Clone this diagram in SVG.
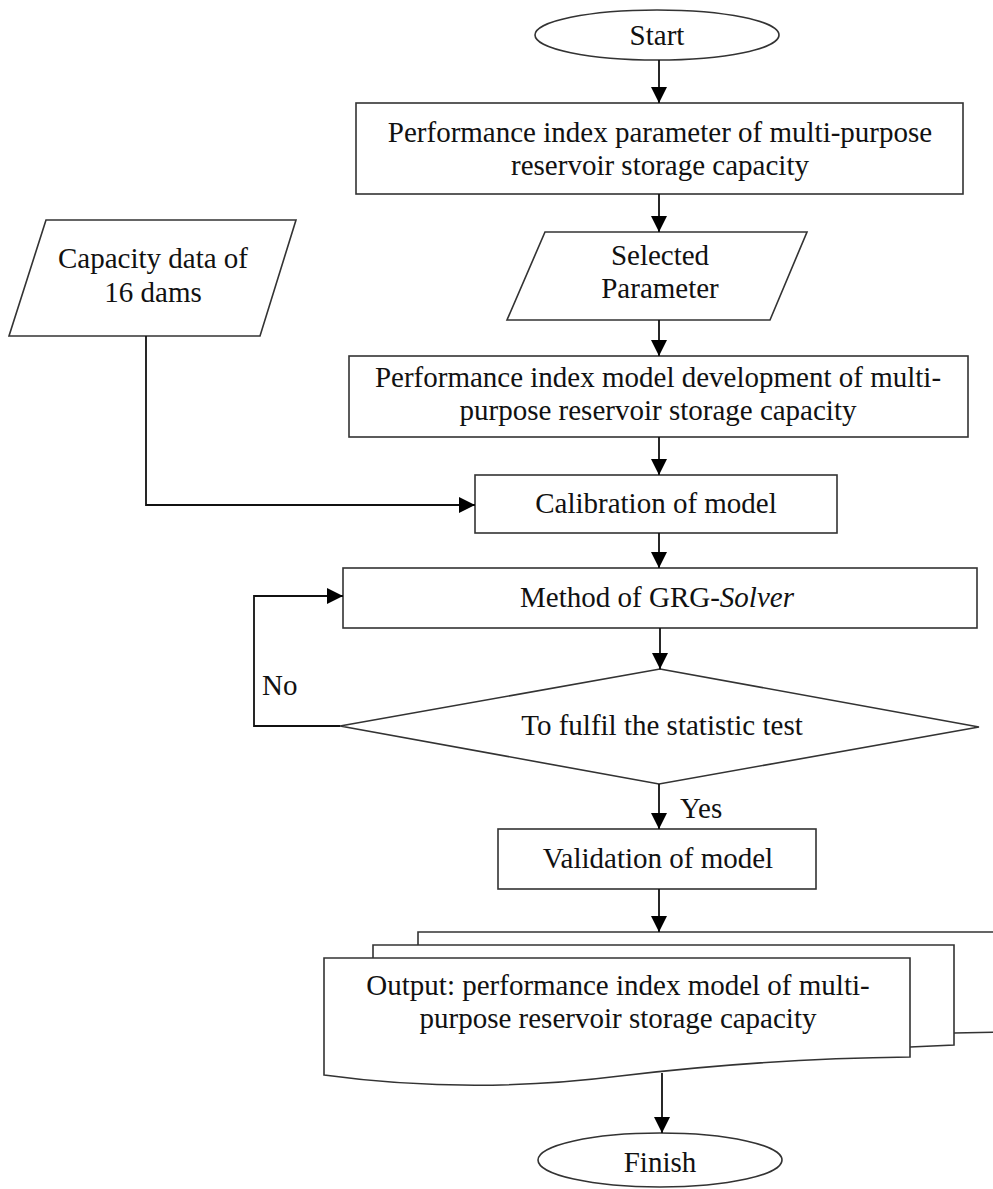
<svg xmlns="http://www.w3.org/2000/svg" width="993" height="1189" viewBox="0 0 993 1189">
<defs>
<marker id="arr" viewBox="0 0 16 16" refX="16" refY="8" markerWidth="16" markerHeight="16" markerUnits="userSpaceOnUse" orient="auto">
<path d="M0,0 L16,8 L0,16 Z" fill="#000"/>
</marker>
<style>
.shape{fill:#fff;stroke:#333;stroke-width:1.6}
.t{font-family:"Liberation Serif","Times New Roman",serif;font-size:29px;fill:#111;text-anchor:middle;dominant-baseline:central}
.l{font-family:"Liberation Serif","Times New Roman",serif;font-size:29px;fill:#111;dominant-baseline:central}
.c{fill:none;stroke:#111;stroke-width:1.8;marker-end:url(#arr)}
.p{fill:none;stroke:#111;stroke-width:1.8}
</style>
</defs>
<rect width="993" height="1189" fill="#fff"/>
<g id="start">
<ellipse class="shape" cx="657" cy="35" rx="122" ry="25"/>
<text class="t" x="657" y="35">Start</text>
</g>
<g id="param">
<rect class="shape" x="356" y="103" width="607" height="91"/>
<text class="t" x="660" y="132">Performance index parameter of multi-purpose</text>
<text class="t" x="660" y="165">reservoir storage capacity</text>
</g>
<g id="selected">
<polygon class="shape" points="545,232 807,232 770,320 507,320"/>
<text class="t" x="660" y="255">Selected</text>
<text class="t" x="660" y="288">Parameter</text>
</g>
<g id="capacity">
<polygon class="shape" points="46,220 296,220 260,336 9,336"/>
<text class="t" x="153" y="258">Capacity data of</text>
<text class="t" x="153" y="292">16 dams</text>
</g>
<g id="development">
<rect class="shape" x="349" y="356" width="619" height="81"/>
<text class="t" x="658" y="377">Performance index model development of multi-</text>
<text class="t" x="658" y="410">purpose reservoir storage capacity</text>
</g>
<g id="calibration">
<rect class="shape" x="475" y="475" width="362" height="58"/>
<text class="t" x="656" y="503">Calibration of model</text>
</g>
<g id="grg">
<rect class="shape" x="343" y="568" width="634" height="60"/>
<text class="t" x="657" y="597">Method of GRG-<tspan font-style="italic">Solver</tspan></text>
</g>
<g id="decision">
<polygon class="shape" points="660,669 979,727 659,784 340,726"/>
<text class="t" x="662" y="725">To fulfil the statistic test</text>
</g>
<g id="validation">
<rect class="shape" x="498" y="829" width="318" height="60"/>
<text class="t" x="658" y="858">Validation of model</text>
</g>
<g id="output">
<polygon class="shape" points="418,932 1010,932 1010,1032 954,1033 418,1040"/>
<polygon class="shape" points="373,945 954,945 954,1045 910,1047 373,1050"/>
<path class="shape" d="M324,1075 L324,958 L910,958 L910,1057 C 820,1058 720,1064 620,1076 Q 470,1095 324,1075 Z"/>
<text class="t" x="618" y="985">Output: performance index model of multi-</text>
<text class="t" x="618" y="1018">purpose reservoir storage capacity</text>
</g>
<g id="finish">
<ellipse class="shape" cx="660" cy="1160" rx="122" ry="27"/>
<text class="t" x="660" y="1162">Finish</text>
</g>
<g id="connectors">
<line class="c" x1="659" y1="60" x2="659" y2="103"/>
<line class="c" x1="659" y1="194" x2="659" y2="232"/>
<line class="c" x1="659" y1="320" x2="659" y2="356"/>
<line class="c" x1="659" y1="437" x2="659" y2="475"/>
<line class="c" x1="659" y1="533" x2="659" y2="568"/>
<line class="c" x1="660" y1="628" x2="660" y2="669"/>
<line class="c" x1="659" y1="784" x2="659" y2="829"/>
<line class="c" x1="659" y1="889" x2="659" y2="932"/>
<line class="c" x1="662" y1="1073" x2="662" y2="1133"/>
<polyline class="c" points="146,336 146,505 475,505"/>
<polyline class="c" points="340,726 254,726 254,596 343,596"/>
<text class="l" x="262" y="685">No</text>
<text class="l" x="680" y="808">Yes</text>
</g>
</svg>
